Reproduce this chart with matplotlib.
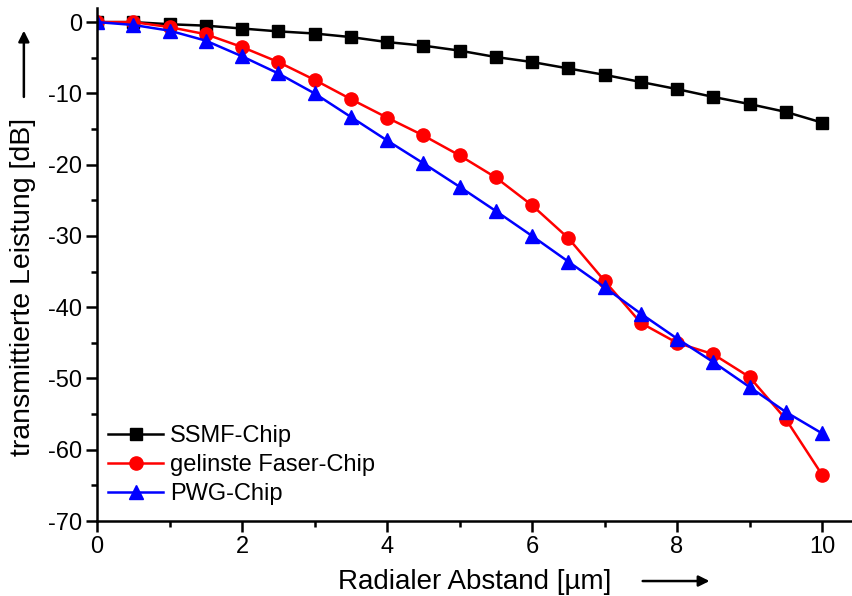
import numpy as np
import matplotlib
matplotlib.use("Agg")
import matplotlib.pyplot as plt
from matplotlib.ticker import MultipleLocator

plt.rcParams['font.family'] = ['Liberation Sans', 'DejaVu Sans']
plt.rcParams['axes.unicode_minus'] = False

# Radialer Abstand in um
abstand = [0, 0.5, 1, 1.5, 2, 2.5, 3, 3.5, 4, 4.5, 5,
           5.5, 6, 6.5, 7, 7.5, 8, 8.5, 9, 9.5, 10]

# transmittierte Leistung in dB
ssmf = [0, 0, -0.3, -0.5, -0.9, -1.3, -1.6, -2.1, -2.8, -3.3, -4.0,
        -4.9, -5.6, -6.5, -7.4, -8.4, -9.4, -10.5, -11.5, -12.6, -14.1]
gelinst = [0, 0, -0.7, -1.7, -3.5, -5.6, -8.1, -10.8, -13.4, -15.9, -18.7,
           -21.8, -25.7, -30.3, -36.3, -42.2, -45.0, -46.6, -49.8, -55.7, -63.5]
pwg = [0, -0.4, -1.2, -2.6, -4.8, -7.2, -10.0, -13.3, -16.6, -19.8, -23.1,
       -26.5, -30.0, -33.6, -37.2, -40.9, -44.4, -47.7, -51.2, -54.7, -57.7]

fig = plt.figure(figsize=(8.52, 5.96), dpi=100)
ax = fig.add_axes([97/852, 1 - 521/596, 0.885, 0.861])

ax.plot(abstand, ssmf, color='black', marker='s', ms=9, lw=1.8, label='SSMF-Chip')
ax.plot(abstand, gelinst, color='red', marker='o', ms=9.5, lw=1.8, label='gelinste Faser-Chip')
ax.plot(abstand, pwg, color='blue', marker='^', ms=10, lw=1.8, label='PWG-Chip')

ax.set_xlim(0, 10.4)
ax.set_ylim(-70, 2)
ax.xaxis.set_major_locator(MultipleLocator(2))
ax.xaxis.set_minor_locator(MultipleLocator(1))
ax.yaxis.set_major_locator(MultipleLocator(10))
ax.yaxis.set_minor_locator(MultipleLocator(5))

for s in ['top', 'right']:
    ax.spines[s].set_visible(False)
for s in ['left', 'bottom']:
    ax.spines[s].set_linewidth(1.8)
ax.tick_params(which='major', direction='out', length=7.7, width=1.8, labelsize=17, pad=3)
ax.tick_params(which='minor', direction='out', length=4.3, width=1.8)

ax.set_xlabel('Radialer Abstand [µm]', fontsize=20, va='center')
ax.set_ylabel('transmittierte Leistung [dB]', fontsize=20.5, va='center')
ax.xaxis.set_label_coords(0.501, -0.119)
ax.yaxis.set_label_coords(-0.098, 0.456)

# Pfeile neben den Achsenbeschriftungen
ax.annotate('', xy=(0.816, -0.117), xytext=(0.72, -0.117), xycoords='axes fraction',
            arrowprops=dict(arrowstyle='-|>', color='black', lw=1.8, mutation_scale=16),
            annotation_clip=False)
ax.annotate('', xy=(-0.097, 0.961), xytext=(-0.097, 0.821), xycoords='axes fraction',
            arrowprops=dict(arrowstyle='-|>', color='black', lw=1.8, mutation_scale=16),
            annotation_clip=False)

ax.legend(loc='lower left', bbox_to_anchor=(0.0146, 0.031), frameon=False, fontsize=17,
          handlelength=2.33, handletextpad=0.3, labelspacing=0.3,
          borderaxespad=0, borderpad=0)

fig.savefig('out.png', dpi=100)
